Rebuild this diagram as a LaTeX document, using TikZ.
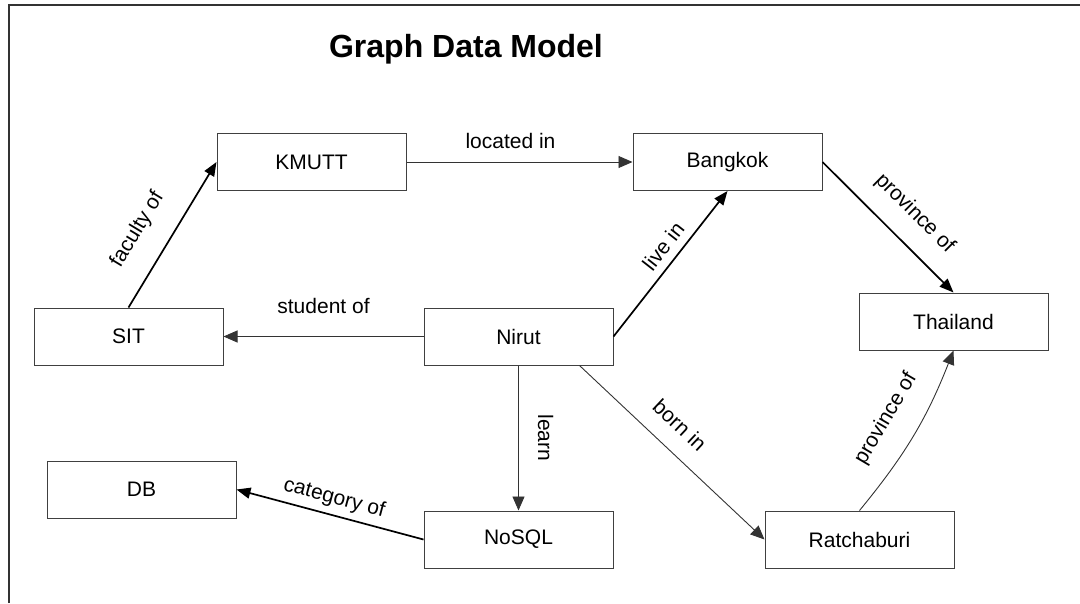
\documentclass[tikz,border=0pt]{standalone}
\usepackage{fontspec}
\setmainfont{Liberation Sans}
\usepackage{xcolor}
\usepackage{tikz}
\usetikzlibrary{positioning}
\usetikzlibrary{arrows.meta}

\begin{document}
\begin{tikzpicture}[x=1pt, y=-1pt]
		% ------- style -------
		\tikzset{%
			entity/.style={%
				draw=black!75, line width=1pt,
				minimum width=189pt, minimum height=57pt,
				inner sep=0pt,
				font=\fontsize{21}{25}\selectfont,
			},
			rel/.style={%
				font=\fontsize{21}{25}\selectfont,
				inner sep=#1,
			},
			rel/.default=5pt,
			thinlink/.style={draw=black!80, line width=0.9pt, -{Triangle[length=14pt, width=12pt]}},
			thicklink/.style={draw=black, line width=1.7pt, -{Triangle[length=14pt, width=11pt]}},
		}
		\useasboundingbox (0,0) rectangle (1080,603);
		
		% ------- frame and title -------
		\draw[black!80, line width=1.6pt] (9,603) -- (9,5) -- (1080,5);
		\node[font=\fontsize{32}{36}\selectfont\bfseries] (title) at (466,49) {Graph Data Model};
		
		% ------- entities -------
		\node[entity] (Nirut) at (518.5,336.5) {Nirut};
		\node[entity] (SIT) [left = 200pt of Nirut] {SIT};
		\node[entity] (NoSQL) [below = 145pt of Nirut] {NoSQL};
		\node[entity] (Ratchaburi) [right = 151pt of NoSQL] {Ratchaburi};
		\node[entity] (DB) at (141.5,489.5) {DB};
		\node[entity] (KMUTT) at (311.5,162) {KMUTT};
		\node[entity] (Bangkok) [right = 226pt of KMUTT] {Bangkok};
		\node[entity] (Thailand) at (953.5,321.5) {Thailand};
		
		% ------- relations -------
		\draw[thinlink] (KMUTT.east) -- node[rel=13pt, above, xshift=-9pt] {located in} (Bangkok.west);
		\draw[thicklink] (SIT.north) -- node[rel=22pt, sloped, above, pos=0.42] {faculty of} (KMUTT.west);
		\draw[thinlink] (Nirut.west) -- node[rel=22pt, above] {student of} (SIT.east);
		\draw[thicklink] (Nirut.east) -- node[rel=8pt, sloped, above, pos=0.55] {live in} (Bangkok.south);
		\draw[thicklink] (Bangkok.east) -- node[rel=18pt, sloped, above, pos=0.55] {province of} (Thailand.north);
		\draw[thinlink] (Nirut.south) -- node[rel=19pt, rotate=-90, anchor=south] {learn} (NoSQL.north);
		\draw[thinlink] ([xshift=-34pt]Nirut.south east) -- node[rel=17pt, sloped, above, pos=0.45] {born in} (Ratchaburi.west);
		\draw[thinlink] (Ratchaburi.north) to[bend right=9] node[rel=22pt, sloped, above] {province of} (Thailand.south);
		\draw[thicklink] (NoSQL.west) -- node[rel=6pt, sloped, above] {category of} (DB.east);
	\end{tikzpicture}
\end{document}
